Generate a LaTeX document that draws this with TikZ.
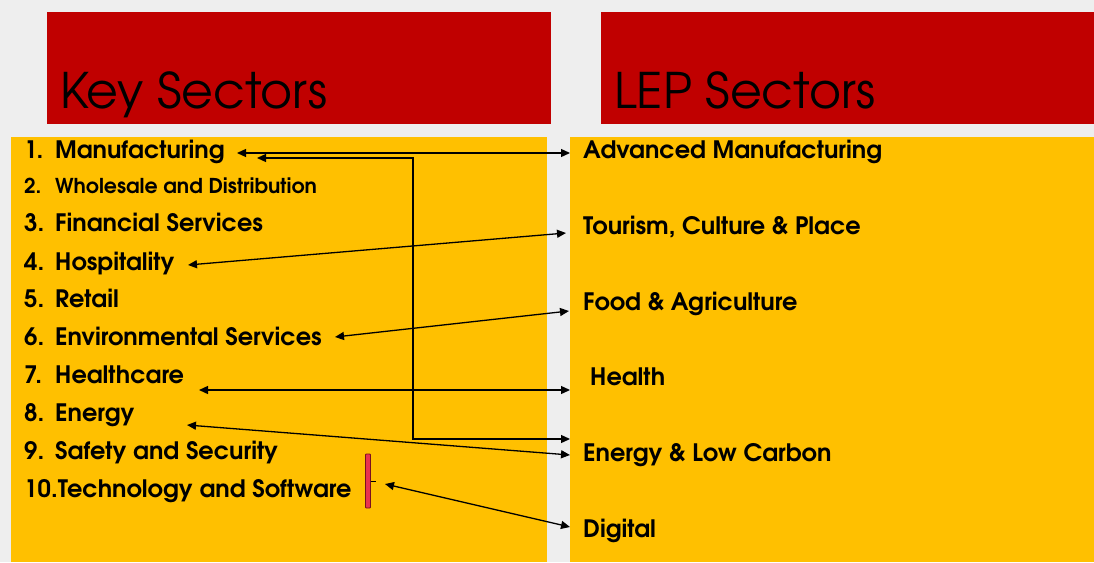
\documentclass[tikz,border=0pt]{standalone}
\usepackage{fontspec}
\setmainfont{texgyreadventor}[Extension=.otf, UprightFont=*-regular, BoldFont=*-bold]
\usetikzlibrary{arrows.meta}
\definecolor{bg}{HTML}{EEEEEE}
\definecolor{hdrred}{HTML}{C00000}
\definecolor{panel}{HTML}{FFC000}
\definecolor{barred}{HTML}{E8344E}
\definecolor{barline}{HTML}{7A1020}
\begin{document}
\begin{tikzpicture}[x=1pt,y=-1pt,
  hdrbox/.style={fill=hdrred,draw=none},
  panelbox/.style={fill=panel,draw=none},
  hdrtext/.style={anchor=base west,inner sep=0pt,font=\fontsize{49}{54}\selectfont},
  item/.style={anchor=base west,inner sep=0pt,font=\bfseries\fontsize{24}{28}\selectfont},
  smallitem/.style={anchor=base west,inner sep=0pt,font=\bfseries\fontsize{20.5}{24}\selectfont},
  lep/.style={anchor=base west,inner sep=0pt,font=\bfseries\fontsize{24}{28}\selectfont},
  arr/.style={line width=1.3pt,{Triangle[length=9pt,width=8pt]}-{Triangle[length=9pt,width=8pt]}}]
\fill[bg] (0,0) rectangle (1094,562);
\useasboundingbox (0,0) rectangle (1094,562);
% header boxes
\fill[hdrbox] (47,12) rectangle (551,124);
\fill[hdrbox] (601,12) rectangle (1094,124);
\node[hdrtext] (hk) at (60,108) {Key Sectors};
\node[hdrtext] (hl) at (614,108) {LEP Sectors};
% panels
\fill[panelbox] (11,137) rectangle (547,562);
\fill[panelbox] (570,137) rectangle (1094,562);
% left list
\node[item] (n1) at (24,158) {1.};
\node[item] (k1) at (55,158) {Manufacturing};
\node[smallitem] (n2) at (24,193) {2.};
\node[smallitem] (k2) at (55,193) {Wholesale and Distribution};
\node[item] (n3) at (24,231) {3.};
\node[item] (k3) at (55,231) {Financial Services};
\node[item] (n4) at (24,270) {4.};
\node[item] (k4) at (55,270) {Hospitality};
\node[item] (n5) at (24,307) {5.};
\node[item] (k5) at (55,307) {Retail};
\node[item] (n6) at (24,345) {6.};
\node[item] (k6) at (55,345) {Environmental Services};
\node[item] (n7) at (24,383) {7.};
\node[item] (k7) at (55,383) {Healthcare};
\node[item] (n8) at (24,421) {8.};
\node[item] (k8) at (55,421) {Energy};
\node[item] (n9) at (24,459) {9.};
\node[item] (k9) at (55,459) {Safety and Security};
\node[item] (k10) at (24,497) {10.Technology and Software};
% right list
\node[lep] (l1) at (583,158) {Advanced Manufacturing};
\node[lep] (l2) at (583,234) {Tourism, Culture \& Place};
\node[lep] (l3) at (583,310) {Food \& Agriculture};
\node[lep] (l4) at (590,385) {Health};
\node[lep] (l5) at (583,461) {Energy \& Low Carbon};
\node[lep] (l6) at (583,537) {Digital};
% red bar
\draw[fill=barred,draw=barline,line width=0.8pt,rounded corners=0.8pt] (365.5,454) rectangle (370.5,508);
\coordinate (barR) at (370.5,481);
\coordinate (barT) at (376,481);
\draw[line width=0.8pt] (barR) -- (barT);
% connector end points
\coordinate (mL) at (237,153);
\coordinate (mR) at (570,153);
\coordinate (eL) at (257,158);
\coordinate (eR) at (570,439);
\coordinate (hL) at (188,265);
\coordinate (hR) at (566,233);
\coordinate (vL) at (335,337);
\coordinate (vR) at (569,311);
\coordinate (cL) at (199,390);
\coordinate (cR) at (570,390);
\coordinate (gL) at (187,425);
\coordinate (gR) at (570,455);
\coordinate (tL) at (385,484);
\coordinate (tR) at (570,527);
% connectors
\draw[arr] (mL) -- (mR);
\draw[arr] (eL) -| (413,439) -- (eR);
\draw[arr] (hL) -- (hR);
\draw[arr] (vL) -- (vR);
\draw[arr] (cL) -- (cR);
\draw[arr] (gL) -- (gR);
\draw[arr] (tL) -- (tR);
\end{tikzpicture}
\end{document}
